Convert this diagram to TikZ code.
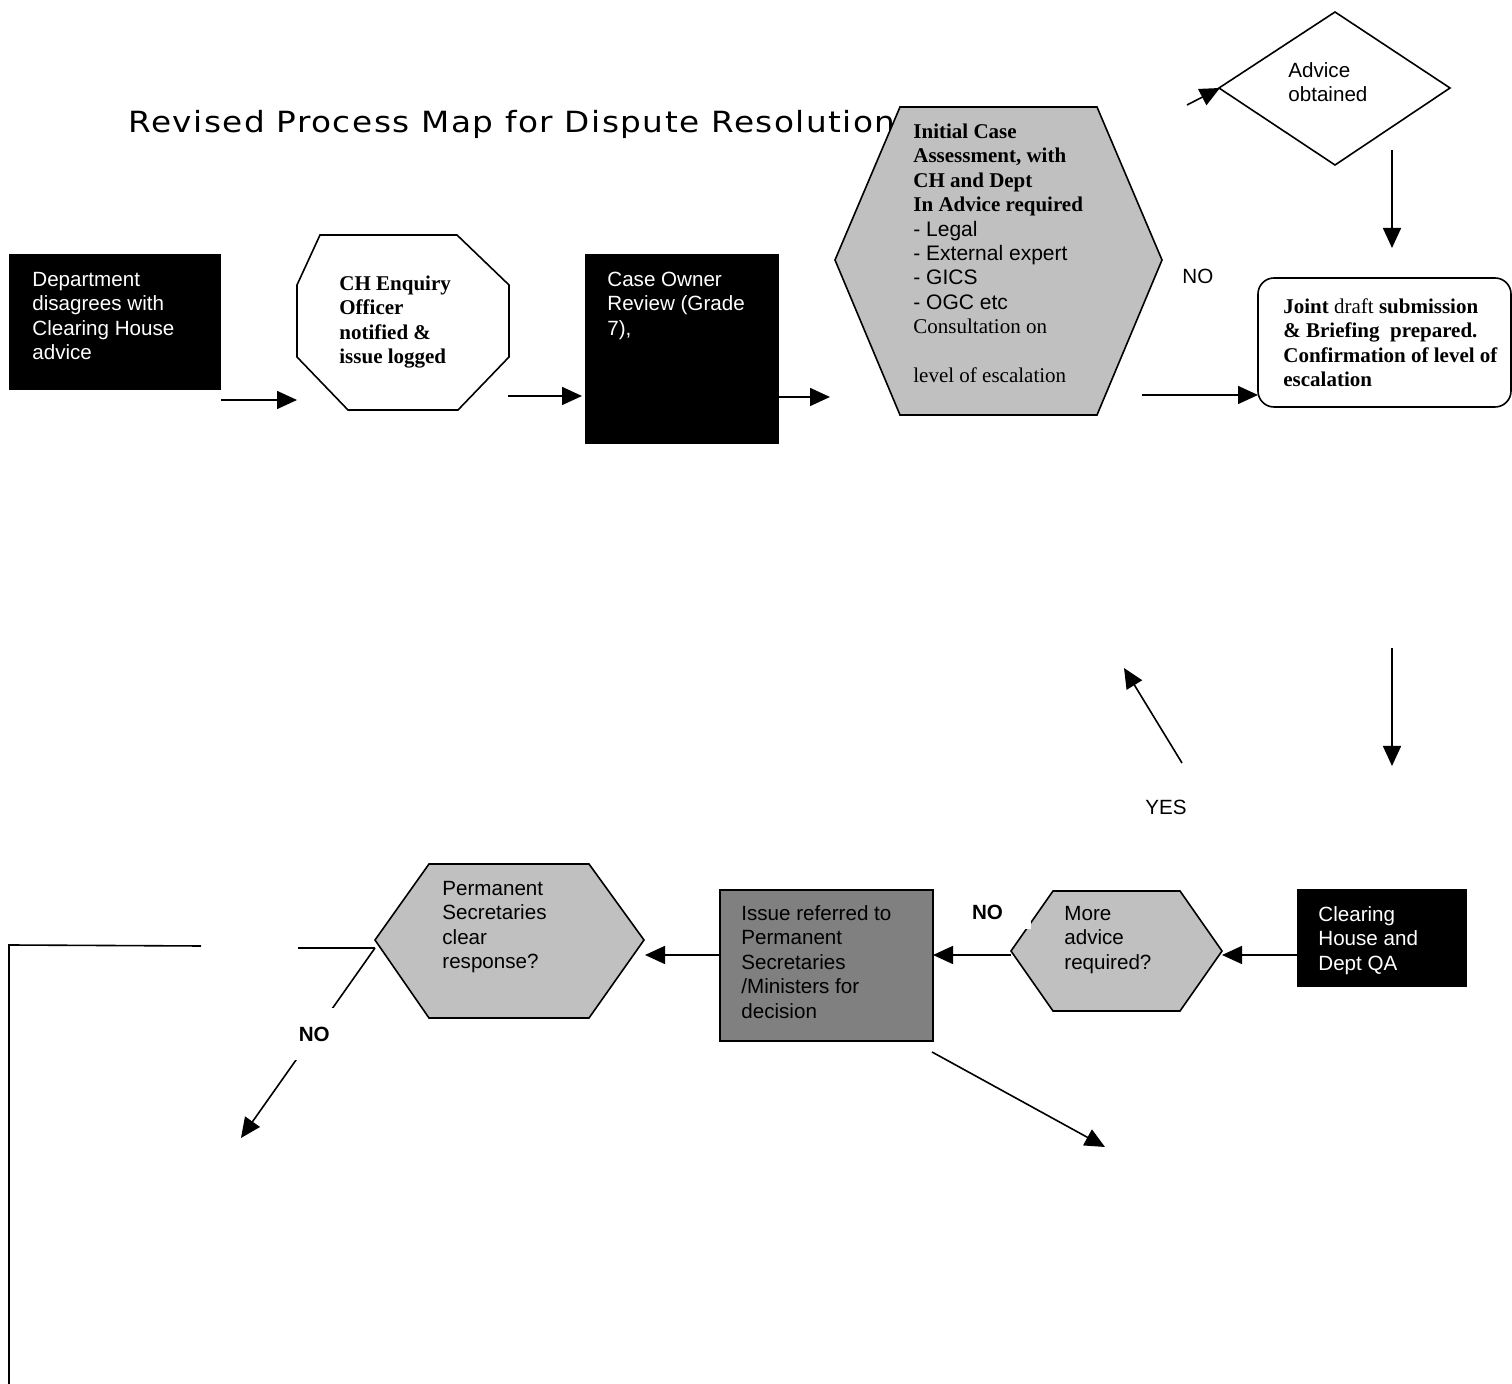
\documentclass[tikz,border=0pt]{standalone}
\usepackage{fontspec}
\setmainfont{Liberation Serif}
\newfontfamily\arialfont{Liberation Sans}
\newfontfamily\titlefont[FakeStretch=1.12,LetterSpace=5]{DejaVu Sans}
\usetikzlibrary{arrows.meta}
\definecolor{lightgrey}{RGB}{192,192,192}
\definecolor{darkgrey}{RGB}{128,128,128}
\tikzset{
   flow/.style={draw=black, line width=0.8pt,
      -{Triangle[length=10pt,width=9pt]}},
   conn/.style={draw=black, line width=0.8pt},
   outline/.style={draw=black, line width=0.8pt},
   blackbox/.style={fill=black},
   sans/.style={font=\arialfont\fontsize{10.3}{12.2}\selectfont},
   serif/.style={font=\fontsize{10.5}{12.2}\selectfont},
   textblock/.style={anchor=north west, inner sep=0pt, align=left},
   word/.style={anchor=base west, inner sep=0pt},
    }

\begin{document}
\begin{tikzpicture}[x=0.5pt, y=-0.5pt]
            \useasboundingbox (0,0) rectangle (1512,1384);
            \node[word, font=\titlefont\fontsize{14.6}{17}\selectfont] (title) at (128,133) {Revised Process Map for Dispute Resolution};
            % top row
            \fill[blackbox] (9,254) rectangle (221,390);
            \node[textblock, sans, text=white] (dept) at (32,269) {\strut Department\\disagrees with\\Clearing House\\advice};
            \draw[outline, fill=white] (297,285) -- (320,235) -- (457,235) -- (509,285) -- (509,357) -- (458,410) -- (348,410) -- (297,357) -- cycle;
            \node[textblock, serif] (enquiry) at (339,273) {\strut\textbf{CH Enquiry}\\\textbf{Officer}\\\textbf{notified \&}\\\textbf{issue logged}};
            \fill[blackbox] (585,254) rectangle (779,444);
            \node[textblock, sans, text=white] (owner) at (607,269) {\strut Case Owner\\Review (Grade\\7),};
            \draw[outline, fill=lightgrey] (835,260) -- (900,107) -- (1097,107) -- (1162,260) -- (1097,415) -- (900,415) -- cycle;
            \node[textblock, serif] (assess) at (913,121) {\strut\textbf{Initial Case}\\\textbf{Assessment, with}\\\textbf{CH and Dept}\\\textbf{In Advice required}\\{\arialfont - Legal}\\{\arialfont - External expert}\\{\arialfont - GICS}\\{\arialfont - OGC etc}\\Consultation on\\\strut\\level of escalation};
            \draw[outline] (1219,88) -- (1335,12) -- (1450,88) -- (1335,165) -- cycle;
            \node[textblock, sans] (obtained) at (1288,60) {\strut Advice\\obtained};
            \draw[outline, rounded corners=8pt] (1258,278) rectangle (1511,407);
            \node[textblock, serif] (joint) at (1283,296) {\strut\textbf{Joint} draft \textbf{submission}\\\textbf{\& Briefing\ \ prepared.}\\\textbf{Confirmation of level of}\\\textbf{escalation}};
            \node[word, sans] (notop) at (1182,284) {NO};
            \node[word, sans] (yes) at (1145,815) {YES};
            % bottom row
            \fill[blackbox] (1297,889) rectangle (1467,987);
            \node[textblock, sans, text=white] (qa) at (1318,904) {\strut Clearing\\House and\\Dept QA};
            \draw[outline, fill=lightgrey] (1011,951) -- (1053,891) -- (1180,891) -- (1222,951) -- (1180,1011) -- (1053,1011) -- cycle;
            \node[textblock, sans] (more) at (1064,903) {\strut More\\advice\\required?};
            \node[fill=white, inner sep=0pt, minimum width=33pt, minimum height=17.5pt, sans] (nomore) at (998,912) {\makebox[33pt][l]{\hspace{3.5pt}\bfseries NO}};
            \draw[outline, fill=darkgrey] (720,890) rectangle (933,1041);
            \node[textblock, sans] (issue) at (741,903) {\strut Issue referred to\\Permanent\\Secretaries\\/Ministers for\\decision};
            \draw[outline, fill=lightgrey] (375,940) -- (429,864) -- (589,864) -- (644,940) -- (589,1018) -- (429,1018) -- cycle;
            \node[textblock, sans] (perm) at (442,878) {\strut Permanent\\Secretaries\\clear\\response?};
            % connector ends
            \coordinate (deptout) at (221,400);
            \coordinate (enqin) at (297,400);
            \coordinate (enqout) at (508,396);
            \coordinate (ownerin) at (582,396);
            \coordinate (ownerout) at (779,397);
            \coordinate (assessin) at (830,397);
            \coordinate (assessout) at (1142,395);
            \coordinate (jointin) at (1258,395);
            \coordinate (advfrom) at (1187,105);
            \coordinate (advin) at (1220,88);
            \coordinate (advout) at (1392,150);
            \coordinate (jointtop) at (1392,248);
            \coordinate (downfrom) at (1392,648);
            \coordinate (downto) at (1392,766);
            \coordinate (yesfrom) at (1182,763);
            \coordinate (yesto) at (1124,668);
            \coordinate (qaout) at (1297,955);
            \coordinate (morein) at (1222,955);
            \coordinate (moreout) at (1011,955);
            \coordinate (issuein) at (933,955);
            \coordinate (issueout) at (720,955);
            \coordinate (permin) at (645,955);
            \coordinate (issuefrom) at (932,1052);
            \coordinate (issueto) at (1105,1147);
            \coordinate (permout) at (375,948);
            \coordinate (gapright) at (298,948);
            \coordinate (gapleft) at (201,946);
            \coordinate (corner) at (9,945);
            \coordinate (bottomend) at (9,1384);
            \coordinate (noto) at (241,1138);
            % connectors
            \draw[flow](deptout)to(enqin);
            \draw[flow](enqout)to(ownerin);
            \draw[flow](ownerout)to(assessin);
            \draw[flow](assessout)to(jointin);
            \draw[flow](advfrom)to(advin);
            \draw[flow](advout)to(jointtop);
            \draw[flow](downfrom)to(downto);
            \draw[flow](yesfrom)to(yesto);
            \draw[flow](qaout)to(morein);
            \draw[flow](moreout)to(issuein);
            \draw[flow](issueout)to(permin);
            \draw[flow](issuefrom)to(issueto);
            \draw[conn](permout)to(gapright);
            \draw[conn](gapleft)--(corner)--(bottomend);
            \draw[flow](permout)to node[pos=0.453, fill=white, inner xsep=2pt, minimum height=26pt, sans] (nolow) {\bfseries NO} (noto);
        \end{tikzpicture}
\end{document}
